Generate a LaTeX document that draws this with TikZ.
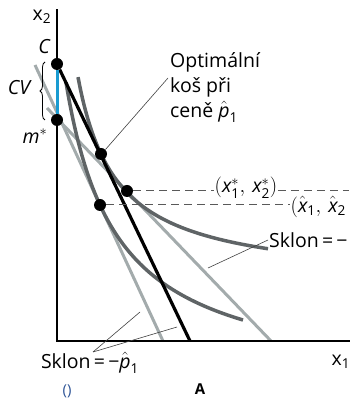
\documentclass[tikz,border=0pt]{standalone}
\usepackage{amsmath}
\usepackage{fontspec}
\setmainfont{Open Sans}
\usetikzlibrary{decorations.pathreplacing}
\definecolor{LightLine}{HTML}{A3ABAC}
\definecolor{DarkCurve}{HTML}{5F6466}
\definecolor{CVBlue}{HTML}{1A9BD1}
\definecolor{NoteBlue}{HTML}{2F5597}
\newcommand{\sfit}[1]{\text{\itshape #1}}
\newcommand{\sfup}[1]{\text{#1}}

\begin{document}
\begin{tikzpicture}[x=1pt, y=1pt,
    font=\fontsize{19.5}{25}\selectfont,
    axis/.style={line width=2.6pt, line cap=rect},
    budget/.style={line width=3.2pt, black},
    compline/.style={line width=3pt, LightLine},
    indiff/.style={line width=3.5pt, DarkCurve},
    dot/.style={circle, fill=black, inner sep=0pt, minimum size=12pt},
    guide/.style={dash pattern=on 8pt off 5pt, line width=1pt, black!65},
    leader/.style={line width=0.6pt, black!75},
    label/.style={inner sep=1pt, align=left}
]
\useasboundingbox (0,0) rectangle (349,398);

% points
\coordinate (O) at (57,57);
\coordinate (ytop) at (57,388);
\coordinate (xend) at (349,57);
\coordinate (lineAtop) at (35,333);
\coordinate (lineAbot) at (163,57);
\coordinate (lineBtop) at (47,290);
\coordinate (lineBbot) at (271,57);
\coordinate (blackbot) at (190,57);

% budget lines at p1 and hat p1
\draw[compline] (lineAtop) -- (lineAbot);
\draw[compline] (lineBtop) -- (lineBbot);

% indifference curves
\draw[indiff, domain=78:268, samples=80, smooth] plot (\x, {114.2+8020/(\x-39.2)});
\draw[indiff, domain=66:243, samples=80, smooth] plot (\x, {9.8+15533/(\x-15.2)});

% axes
\draw[axis] (ytop) -- (O) -- (xend);

\node[dot] (C) at (57,334) {};
\node[dot] (mstar) at (57,278) {};
\draw[budget] (C) -- (blackbot);
\draw[line width=3pt, CVBlue] (C.south) -- (mstar.north);
\node[dot] (opt) at (101,244) {};
\node[dot] (xstar) at (127,207) {};
\node[dot] (xhat) at (100,193) {};

% axis labels
\node (x2lbl) at (42,381) {x$_{\sfup{2}}$};
\node (x1lbl) at (341,36) {x$_{\sfup{1}}$};
\node (Clbl) at (44,351) {\itshape C};
\node (mlbl) at (35,262) {$\sfit{m}^*$};
\node (CVlbl) at (19,310) {\itshape CV};
\draw[decorate, decoration={brace, amplitude=5pt}, line width=0.8pt] (45,278) -- (45,336);

% dashed guides
\node[label, fill=white, inner sep=0.5pt] (xstarlbl) at (246,210) {$(\sfit{x}^*_{\sfup{1}},\,\sfit{x}^*_{\sfup{2}})$};
\coordinate (rimA) at (349,207);
\draw[guide] (xstar) -- (xstarlbl.west |- xstar);
\draw[guide] (xstarlbl.east |- xstar) -- (rimA);
\node[label, anchor=west, inner sep=0.5pt] (xhatlbl) at (290,191) {$(\hat{\sfit{x}}_{\sfup{1}},\,\hat{\sfit{x}}_{\sfup{2}}$};
\draw[guide] (xhat) -- (xhatlbl.west |- xhat);

% notes
\node[label, anchor=north west, inner sep=0pt] (optlbl) at (170,346) {Optimální\\koš při\\ceně $\hat{\sfit{p}}_{\sfup{1}}$};
\coordinate (optlead) at (168,320);
\draw[leader] (opt.north east) -- (optlead);

\node[label, anchor=west] (slopeR) at (268,158) {Sklon\,=\,−};
\coordinate (slopeRfoot) at (208,130);
\draw[leader] (slopeRfoot) -- (slopeR.west);

\node[label] (slopeL) at (90,35) {Sklon\,=\,−$\hat{\sfit{p}}_{\sfup{1}}$};
\coordinate (slopeLtip) at (93,46);
\coordinate (footA) at (140,86);
\coordinate (footB) at (177,71);
\draw[leader] (slopeLtip) -- (footA);
\draw[leader] (slopeLtip) -- (footB);

\node[text=NoteBlue, font=\fontsize{15}{18}\selectfont] (blank) at (67,7) {()};
\node[font=\fontsize{15}{18}\selectfont\bfseries] (panel) at (200,9) {A};
\end{tikzpicture}
\end{document}
